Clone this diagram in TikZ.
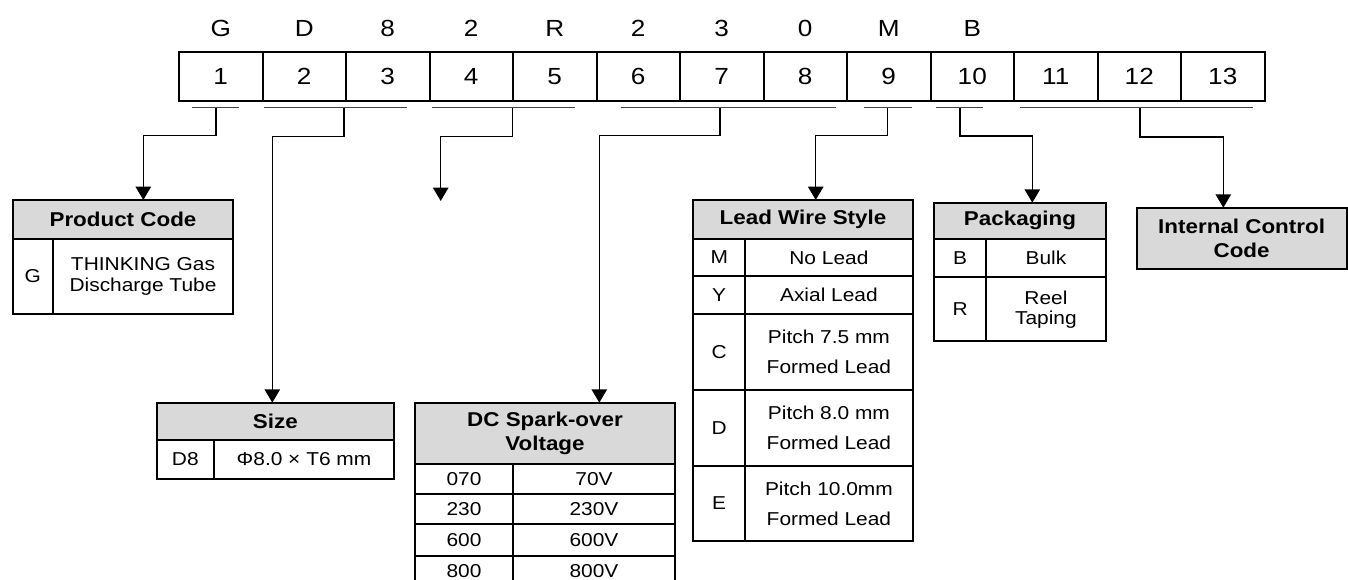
\documentclass[tikz,border=0pt]{standalone}
\usepackage{fontspec}
\setmainfont{Liberation Sans}[FakeStretch=1.12]
\usetikzlibrary{arrows.meta}
\definecolor{hdrgray}{RGB}{217,217,217}
\definecolor{ulgray}{RGB}{70,70,70}
\begin{document}
\begin{tikzpicture}[x=0.75pt,y=-0.75pt,
  toplbl/.style={inner sep=0pt,font=\fontsize{17.5}{20}\selectfont},
  numcell/.style={draw,line width=1.5pt,inner sep=0pt,minimum width=62.625pt,minimum height=36.5pt,font=\fontsize{17.5}{20}\selectfont},
  uline/.style={draw=ulgray,line width=1.2pt},
  conn/.style={draw,line width=1.1pt,-{Triangle[width=11.5pt,length=10pt]}},
  tbl/.style={draw,line width=1.5pt},
  hdrbox/.style={fill=hdrgray,draw,line width=1.5pt},
  hdrtxt/.style={inner sep=0pt,align=center,font=\bfseries\fontsize{15}{18}\selectfont},
  bodytxt/.style={inner sep=0pt,align=center,font=\fontsize{14}{15.75}\selectfont},
  leadtxt/.style={inner sep=0pt,align=center,font=\fontsize{14}{22.5}\selectfont},
  packtxt/.style={inner sep=0pt,align=center,font=\fontsize{14}{15}\selectfont}]
\clip (0,0) rectangle (1348,580);
\fill[white] (0,0) rectangle (1348,580);

% top code letters and position cells
\foreach \l [count=\i] in {G,D,8,2,R,2,3,0,M,B}
  \node[toplbl] (l\i) at ({179+83.5*(\i-0.5)},28) {\l};
\foreach \i in {1,...,13}
  \node[numcell] (c\i) at ({179+83.5*(\i-0.5)},76.35) {\i};

% underlines (brackets)
\draw[uline] (191.7,107.7) -- (239.3,107.7);
\draw[uline] (264,107.7) -- (407.3,107.7);
\draw[uline] (431.7,107.7) -- (575,107.7);
\draw[uline] (620.7,107.7) -- (836,107.7);
\draw[uline] (864,107.7) -- (911.7,107.7);
\draw[uline] (936,107.7) -- (983.3,107.7);
\draw[uline] (1020,107.7) -- (1252.7,107.7);
\coordinate (m1) at (216,107.7);
\coordinate (m2) at (344,107.7);
\coordinate (m3) at (512.3,107.7);
\coordinate (m4) at (720,107.7);
\coordinate (m5) at (887.7,107.7);
\coordinate (m6) at (960,107.7);
\coordinate (m7) at (1140,107.7);
\coordinate (t1) at (143.3,200);
\coordinate (t2) at (272.3,402.7);
\coordinate (t3) at (440.7,201);
\coordinate (t4) at (599.3,402.7);
\coordinate (t5) at (815.7,200);
\coordinate (t6) at (1032.3,202.7);
\coordinate (t7) at (1223.3,207.7);

\draw[conn] (m1) -- ++(0,28) -| (t1);
\draw[conn] (m2) -- ++(0,29) -| (t2);
\draw[conn] (m3) -- ++(0,29) -| (t3);
\draw[conn] (m4) -- ++(0,28) -| (t4);
\draw[conn] (m5) -- ++(0,28) -| (t5);
\draw[conn] (m6) -- ++(0,28.3) -| (t6);
\draw[conn] (m7) -- ++(0,29.3) -| (t7);

% Product Code table
\draw[hdrbox] (12.7,200) rectangle (233.3,239);
\draw[tbl] (12.7,200) rectangle (233.3,314);
\draw[tbl] (52.7,239) -- (52.7,314);
\node[hdrtxt] (pch) at (123,219.5) {Product Code};
\node[bodytxt] (pc1) at (32.7,276.5) {G};
\node[bodytxt] (pc2) at (143,276.5) {THINKING Gas\\Discharge Tube};

% Size table
\draw[hdrbox] (156.7,402.7) rectangle (394,440);
\draw[tbl] (156.7,402.7) rectangle (394,479);
\draw[tbl] (214,440) -- (214,479);
\node[hdrtxt] (szh) at (275.3,421.3) {Size};
\node[bodytxt] (sz1) at (185.3,459.5) {D8};
\node[bodytxt] (sz2) at (304,459.5) {Φ8.0 × T6 mm};

% DC Spark-over Voltage table
\draw[hdrbox] (415,402.7) rectangle (675,464.3);
\draw[tbl] (415,402.7) rectangle (675,588);
\draw[tbl] (415,494.3) -- (675,494.3);
\draw[tbl] (415,524.3) -- (675,524.3);
\draw[tbl] (415,556) -- (675,556);
\draw[tbl] (513,464.3) -- (513,588);
\node[hdrtxt] (dch) at (545,433.5) {DC Spark-over\\Voltage};
\node[bodytxt] (dca1) at (464,479.3) {070};
\node[bodytxt] (dcb1) at (594,479.3) {70V};
\node[bodytxt] (dca2) at (464,509.3) {230};
\node[bodytxt] (dcb2) at (594,509.3) {230V};
\node[bodytxt] (dca3) at (464,540.2) {600};
\node[bodytxt] (dcb3) at (594,540.2) {600V};
\node[bodytxt] (dca4) at (464,571.5) {800};
\node[bodytxt] (dcb4) at (594,571.5) {800V};

% Lead Wire Style table
\draw[hdrbox] (693.3,200) rectangle (912.7,239);
\draw[tbl] (693.3,200) rectangle (912.7,541);
\draw[tbl] (693.3,276) -- (912.7,276);
\draw[tbl] (693.3,314) -- (912.7,314);
\draw[tbl] (693.3,390) -- (912.7,390);
\draw[tbl] (693.3,466) -- (912.7,466);
\draw[tbl] (745,239) -- (745,541);
\node[hdrtxt] (lwh) at (803,219.5) {Lead Wire Style};
\node[bodytxt] (lwa1) at (719.2,257.5) {M};
\node[bodytxt] (lwb1) at (828.9,257.5) {No Lead};
\node[bodytxt] (lwa2) at (719.2,295) {Y};
\node[bodytxt] (lwb2) at (828.9,295) {Axial Lead};
\node[bodytxt] (lwa3) at (719.2,352) {C};
\node[leadtxt] (lwb3) at (828.9,352) {Pitch 7.5 mm\\Formed Lead};
\node[bodytxt] (lwa4) at (719.2,428) {D};
\node[leadtxt] (lwb4) at (828.9,428) {Pitch 8.0 mm\\Formed Lead};
\node[bodytxt] (lwa5) at (719.2,503.5) {E};
\node[leadtxt] (lwb5) at (828.9,503.5) {Pitch 10.0mm\\Formed Lead};

% Packaging table
\draw[hdrbox] (934.3,202.7) rectangle (1105.7,239);
\draw[tbl] (934.3,202.7) rectangle (1105.7,341);
\draw[tbl] (934.3,277.3) -- (1105.7,277.3);
\draw[tbl] (986,239) -- (986,341);
\node[hdrtxt] (pkh) at (1020,220.8) {Packaging};
\node[bodytxt] (pka1) at (960.2,258.2) {B};
\node[bodytxt] (pkb1) at (1045.9,258.2) {Bulk};
\node[bodytxt] (pka2) at (960.2,309.2) {R};
\node[packtxt] (pkb2) at (1045.9,309.2) {Reel\\Taping};

% Internal Control Code
\draw[hdrbox] (1136.7,207.7) rectangle (1346.5,269.3);
\node[hdrtxt] (icc) at (1241.6,238.5) {Internal Control\\Code};
\end{tikzpicture}
\end{document}
